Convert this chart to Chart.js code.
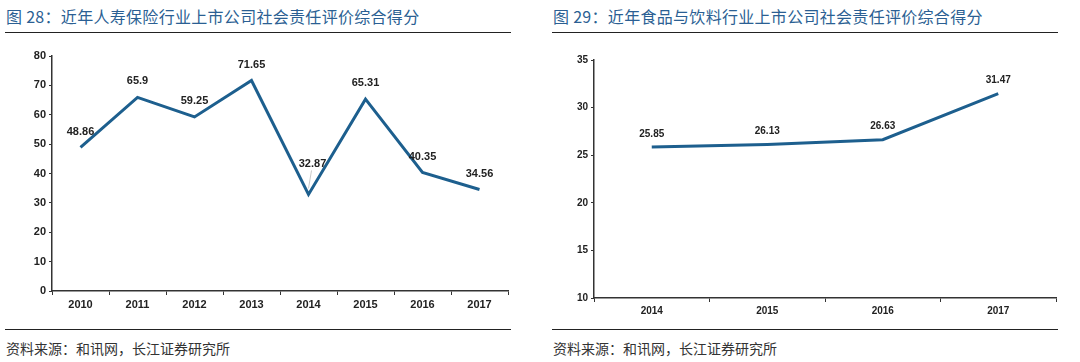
<!DOCTYPE html>
<html>
<head>
<meta charset="utf-8">
<script src="https://cdn.jsdelivr.net/npm/chart.js@4"></script>
<style>
  body { margin: 0; background: #fff; width: 1080px; height: 362px; position: relative; overflow: hidden;
         font-family: "Noto Sans CJK SC", "Noto Sans", sans-serif; }
  .title { position: absolute; top: 4px; font-size: 16px; letter-spacing: 0.3px; color: #2b5f93; white-space: pre; }
  .rule { position: absolute; height: 0; border-top: 1.5px solid #222; }
  .source { position: absolute; top: 338px; font-size: 14px; color: #333; white-space: nowrap; }
  .box { position: absolute; top: 40px; width: 540px; height: 280px; }
</style>
</head>
<body>
<div class="title" style="left:6px">图 28：近年人寿保险行业上市公司社会责任评价综合得分</div>
<div class="rule" style="left:5px;width:506px;top:32px"></div>
<div class="box" style="left:0"><canvas id="chart1" width="540" height="280"></canvas></div>
<div class="rule" style="left:5px;width:506px;top:329px"></div>
<div class="source" style="left:6px">资料来源：和讯网，长江证券研究所</div>

<div class="title" style="left:553px">图 29：近年食品与饮料行业上市公司社会责任评价综合得分</div>
<div class="rule" style="left:552px;width:506px;top:32px"></div>
<div class="box" style="left:540px"><canvas id="chart2" width="540" height="280"></canvas></div>
<div class="rule" style="left:552px;width:506px;top:329px"></div>
<div class="source" style="left:553px">资料来源：和讯网，长江证券研究所</div>

<script>
// 寿险行业
const lifeYears = ["2010", "2011", "2012", "2013", "2014", "2015", "2016", "2017"]
const lifeScores = [48.86, 65.9, 59.25, 71.65, 32.87, 65.31, 40.35, 34.56]

// 食品饮料行业
const foodYears = ["2014", "2015", "2016", "2017"]
const foodScores = [25.85, 26.13, 26.63, 31.47]

const lineColor = "#1d5f8e"
const textColor = "#222"

// 数据标签
const valueLabels = {
  id: "valueLabels",
  afterDatasetsDraw(chart, args, opts) {
    const ctx = chart.ctx
    const meta = chart.getDatasetMeta(0)
    const values = chart.data.datasets[0].data
    ctx.save()
    ctx.font = `bold ${opts.size}px Arial, "Liberation Sans", sans-serif`
    ctx.fillStyle = textColor
    ctx.textAlign = "center"
    ctx.textBaseline = "middle"
    meta.data.forEach((pt, i) => {
      const lift = (opts.lift && opts.lift[i]) || opts.gap
      const lx = pt.x + ((opts.shift && opts.shift[i]) || 0)
      const ly = pt.y - lift
      if (lift > 20) {
        ctx.strokeStyle = "#bbb"
        ctx.lineWidth = 0.8
        ctx.beginPath()
        ctx.moveTo(lx - 1, ly + 6)
        ctx.lineTo(pt.x, pt.y - 6)
        ctx.stroke()
      }
      ctx.fillText(String(values[i]), lx, ly)
    })
    ctx.restore()
  }
}

const buildChart = (id, labels, values, cfg) => {
  const tickFont = { family: "Arial, 'Liberation Sans', sans-serif", size: cfg.tickSize, weight: "bold" }
  return new Chart(document.getElementById(id), {
    type: "line",
    data: {
      labels: labels,
      datasets: [{
        data: values,
        borderColor: lineColor,
        borderWidth: 3,
        pointRadius: 0,
        tension: 0,
        fill: false
      }]
    },
    options: {
      responsive: false,
      animation: false,
      layout: { padding: cfg.padding },
      plugins: {
        legend: { display: false },
        tooltip: { enabled: false },
        valueLabels: cfg.labels
      },
      scales: {
        x: {
          offset: true,
          border: { color: "#333", width: 1.5 },
          grid: { offset: true, drawOnChartArea: false, tickLength: 4, color: "#333" },
          ticks: { color: textColor, font: tickFont, padding: cfg.xPad, maxRotation: 0 },
          afterFit: (s) => { s.height = cfg.xHeight }
        },
        y: {
          min: cfg.min,
          max: cfg.max,
          border: { color: "#333", width: 1.5 },
          grid: { drawOnChartArea: false, tickLength: 3, color: "#333" },
          ticks: { stepSize: cfg.step, color: textColor, font: tickFont, padding: 3 },
          afterFit: (s) => { s.width = cfg.yWidth }
        }
      }
    },
    plugins: [valueLabels]
  })
}

buildChart("chart1", lifeYears, lifeScores, {
  min: 0, max: 80, step: 10, tickSize: 11,
  padding: { top: 16, right: 32, bottom: 0, left: 0 },
  yWidth: 52, xHeight: 29, xPad: 3,
  labels: { size: 11, gap: 16, lift: { 4: 30 }, shift: { 4: 4 } }
})

buildChart("chart2", foodYears, foodScores, {
  min: 10, max: 35, step: 5, tickSize: 10,
  padding: { top: 20, right: 24, bottom: 0, left: 0 },
  yWidth: 54, xHeight: 22, xPad: 3,
  labels: { size: 10, gap: 13 }
})
</script>
</body>
</html>
